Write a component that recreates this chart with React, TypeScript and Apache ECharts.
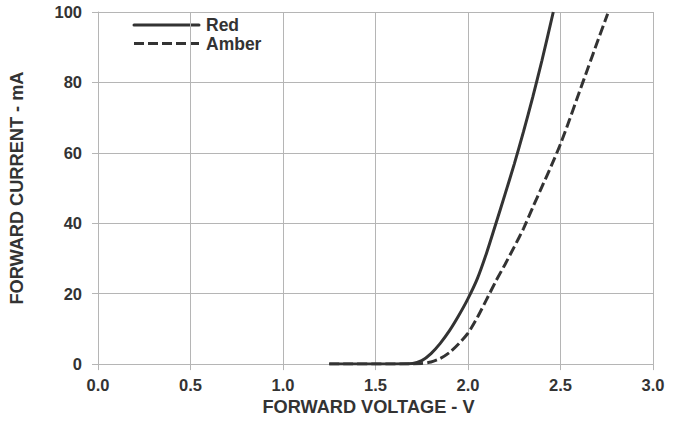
import React, { useEffect, useRef } from "react";
import * as echarts from "echarts";

// Forward voltage (V) vs forward current (mA)
const redVoltage = [1.25, 1.5, 1.7, 1.75, 1.8, 1.85, 1.9, 1.95, 2.0, 2.05, 2.1, 2.15, 2.2, 2.25, 2.3, 2.35, 2.4, 2.461];
const redCurrent = [0, 0.05, 0.2, 1.0, 3.0, 5.9, 9.5, 13.8, 18.6, 24.2, 31.5, 39.8, 48.2, 56.8, 66, 75.8, 86.3, 100];

const amberVoltage = [1.25, 1.7, 1.75, 1.8, 1.85, 1.9, 1.95, 2.0, 2.05, 2.1, 2.15, 2.2, 2.25, 2.3, 2.35, 2.4, 2.45, 2.5, 2.55, 2.6, 2.65, 2.7, 2.755];
const amberCurrent = [0, 0.05, 0.2, 0.6, 1.6, 3.3, 5.8, 8.8, 13.2, 18.3, 23.5, 28.3, 33.3, 38.5, 44.5, 50.4, 56.3, 62.5, 69.6, 77, 84.3, 91.6, 99.5];

const seriesNames = ["Red", "Amber"];
const xTicks = { min: 0, max: 3, step: 0.5 };
const yTicks = { min: 0, max: 100, step: 20 };

const FONT = "'Liberation Sans', Arial, sans-serif";
const INK = "#333333";
const GRID = "#b5b5b5";
const DASH = [10, 4];

const pairs = (xs: number[], ys: number[]) => xs.map((x, i) => [x, ys[i]]);

// Key in the upper-left corner of the plot: a line sample plus its label
const legendEntry = (label: string, y: number, dashed: boolean) => ({
  type: "group",
  children: [
    {
      type: "line",
      shape: { x1: 134, y1: y, x2: 199, y2: y },
      style: { stroke: INK, lineWidth: 3, lineCap: dashed ? "butt" : "round", lineDash: dashed ? DASH : null },
    },
    {
      type: "text",
      style: {
        text: label,
        x: 206,
        y,
        verticalAlign: "middle",
        font: `bold 17.5px ${FONT}`,
        fill: INK,
      },
    },
  ],
});

export default function App() {
  const ref = useRef<HTMLDivElement>(null);

  useEffect(() => {
    if (!ref.current) return;
    const chart = echarts.init(ref.current, undefined, { renderer: "svg" });
    chart.setOption({
      animation: false,
      backgroundColor: "#ffffff",
      grid: { left: 98, right: 32, top: 12, bottom: 56, containLabel: false },
      graphic: [legendEntry(seriesNames[0], 25, false), legendEntry(seriesNames[1], 43.5, true)],
      xAxis: {
        type: "value",
        min: xTicks.min,
        max: xTicks.max,
        interval: xTicks.step,
        name: "FORWARD VOLTAGE - V",
        nameLocation: "middle",
        nameGap: 33,
        nameTextStyle: { fontFamily: FONT, fontWeight: "bold", fontSize: 18.2, color: INK, padding: [0, 14, 0, 0] },
        axisLine: { show: true, lineStyle: { color: GRID, width: 1 } },
        axisTick: { show: true, length: 6, lineStyle: { color: GRID } },
        axisLabel: {
          fontFamily: FONT,
          fontWeight: "bold",
          fontSize: 16.5,
          color: INK,
          margin: 12,
          formatter: (v: number) => v.toFixed(1),
        },
        splitLine: { show: true, lineStyle: { color: GRID, width: 1 } },
      },
      yAxis: {
        type: "value",
        min: yTicks.min,
        max: yTicks.max,
        interval: yTicks.step,
        name: "FORWARD CURRENT - mA",
        nameLocation: "middle",
        nameGap: 72,
        nameTextStyle: { fontFamily: FONT, fontWeight: "bold", fontSize: 18.2, color: INK },
        axisLine: { show: true, lineStyle: { color: GRID, width: 1 } },
        axisTick: { show: true, length: 6, lineStyle: { color: GRID } },
        axisLabel: { fontFamily: FONT, fontWeight: "bold", fontSize: 16.5, color: INK, margin: 16 },
        splitLine: { show: true, lineStyle: { color: GRID, width: 1 } },
      },
      series: [
        {
          name: seriesNames[1],
          type: "line",
          data: pairs(amberVoltage, amberCurrent),
          symbol: "none",
          showSymbol: false,
          smooth: 0.25,
          z: 2,
          lineStyle: { color: INK, width: 3, type: DASH },
          itemStyle: { color: INK },
        },
        {
          name: seriesNames[0],
          type: "line",
          data: pairs(redVoltage, redCurrent),
          symbol: "none",
          showSymbol: false,
          smooth: 0.25,
          z: 3,
          lineStyle: { color: INK, width: 3, type: "solid" },
          itemStyle: { color: INK },
        },
      ],
    });
    return () => chart.dispose();
  }, []);

  return <div ref={ref} style={{ position: "fixed", left: 0, top: 0, width: 685, height: 421 }} />;
}
